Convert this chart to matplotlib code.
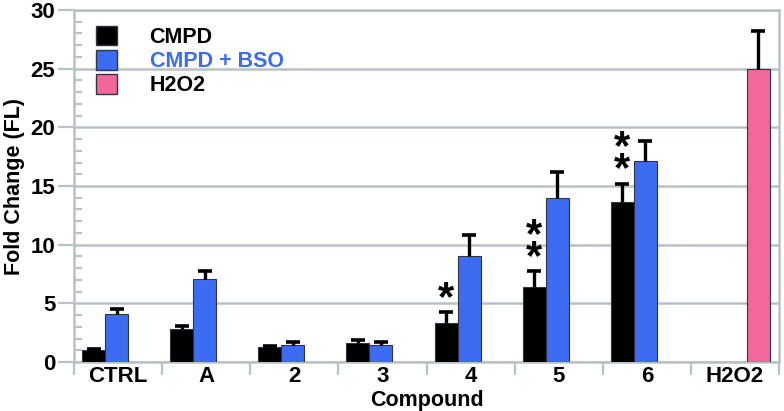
import matplotlib
matplotlib.use("Agg")
import matplotlib.pyplot as plt
from matplotlib.patches import Patch
from matplotlib.ticker import MultipleLocator, FixedLocator
import numpy as np

plt.rcParams['font.family'] = ['Liberation Sans', 'DejaVu Sans']
plt.rcParams['font.weight'] = 'bold'

categories = ["CTRL", "A", "2", "3", "4", "5", "6", "H2O2"]
cmpd = [1.0, 2.85, 1.25, 1.65, 3.35, 6.42, 13.67, np.nan]
cmpd_err = [0.1, 0.2, 0.13, 0.25, 0.9, 1.3, 1.5, np.nan]
cmpd_bso = [4.1, 7.1, 1.45, 1.45, 9.0, 14.0, 17.13, np.nan]
cmpd_bso_err = [0.45, 0.65, 0.22, 0.22, 1.8, 2.2, 1.7, np.nan]
h2o2 = [np.nan] * 7 + [25.0]
h2o2_err = [np.nan] * 7 + [3.2]
stars = [0, 0, 0, 0, 1, 2, 2, 0]   # significance marks over CMPD bars

BLACK = "#000000"
BLUE = "#3b6cf2"
PINK = "#f2679a"
GRID = "#b8c2c4"

fig = plt.figure(figsize=(7.84, 4.11), dpi=100)
ax = fig.add_axes([74/784, 1-362/411, (779-74)/784, (362-10)/411])

n = len(categories)
x = np.arange(n)
w = 0.261
off = [0.222, 0.483, 0.767]
series = [(cmpd, cmpd_err, BLACK), (cmpd_bso, cmpd_bso_err, BLUE), (h2o2, h2o2_err, PINK)]
for (vals, errs, col), o in zip(series, off):
    v = np.array(vals, dtype=float)
    e = np.array(errs, dtype=float)
    ax.bar(x + o, v, width=w, color=col, edgecolor="#333344", linewidth=0.8, zorder=3)
    ax.errorbar(x + o, v, yerr=[np.zeros_like(e), e], fmt="none", ecolor="black",
                elinewidth=2.4, capsize=0, zorder=4)
    ax.plot(x + o, v + e, linestyle="none", marker="_", markersize=10,
            markeredgewidth=2.6, color="black", zorder=4)

for i, s in enumerate(stars):
    if s == 0:
        continue
    top = cmpd[i] + cmpd_err[i]
    ax.text(x[i] + off[0], top - 0.55, "\n".join(["*"] * s), ha="center", va="bottom",
            fontsize=30, fontweight="bold", linespacing=0.42, zorder=5)

ax.set_xlim(0, n)
ax.set_ylim(0, 30)

# y axis ticks
ax.yaxis.set_major_locator(MultipleLocator(5))
ax.yaxis.set_minor_locator(MultipleLocator(1))
ax.tick_params(axis="y", which="major", direction="out", length=11.5, width=1.6,
               color=GRID, labelsize=16, pad=2)
ax.tick_params(axis="y", which="minor", direction="in", length=5.5, width=1.6, color=GRID)
ax.grid(axis="y", which="major", color=GRID, linewidth=1.8, zorder=0)

# x axis: separators as major ticks, labels as minor
ax.xaxis.set_major_locator(FixedLocator(np.arange(n + 1)))
ax.xaxis.set_minor_locator(FixedLocator(x + 0.5))
ax.set_xticklabels([])
ax.set_xticklabels(categories, minor=True)
ax.tick_params(axis="x", which="major", direction="out", length=9.5, width=1.6, color=GRID)
ax.tick_params(axis="x", which="minor", length=0, labelsize=16, pad=3)

for sp in ax.spines.values():
    sp.set_color(GRID)
    sp.set_linewidth(1.8)

for lbl in ax.get_xticklabels(minor=True) + ax.get_yticklabels():
    lbl.set_fontweight("bold")

ax.set_xlabel("Compound", fontsize=15.5, fontweight="bold", labelpad=2)
ax.set_ylabel("Fold Change (FL)", fontsize=15.5, fontweight="bold", labelpad=4)

handles = [Patch(facecolor=BLACK, edgecolor="#333344"),
           Patch(facecolor=BLUE, edgecolor="#333344"),
           Patch(facecolor=PINK, edgecolor="#333344")]
leg = ax.legend(handles, ["CMPD", "CMPD + BSO", "H2O2"], loc="upper left",
                bbox_to_anchor=(0.008, 1.0), frameon=False,
                handlelength=1.0, handleheight=1.0, handletextpad=1.5,
                labelspacing=0.1, borderaxespad=0.35,
                labelcolor=[BLACK, BLUE, BLACK], prop={"weight": "bold", "size": 15.5})

fig.savefig("out.png", dpi=100)
